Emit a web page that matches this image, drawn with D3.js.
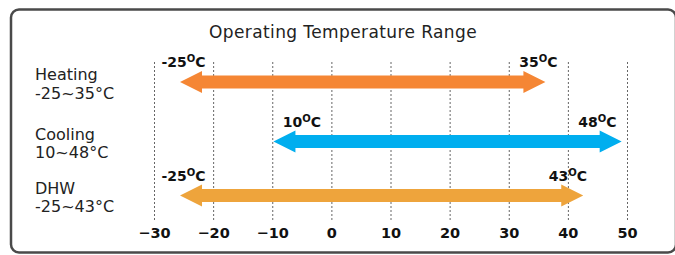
<!DOCTYPE html>
<html>
<head>
<meta charset="utf-8">
<script src="https://cdn.jsdelivr.net/npm/d3@7"></script>
<style>
  body { margin: 0; background: #fff; }
  svg { display: block; font-family: "DejaVu Sans", sans-serif; }
</style>
</head>
<body>
<div id="chart"></div>
<script>
// modes and their operating ranges (°C)
const modes = ["Heating", "Cooling", "DHW"];
const rangeMin = [-25, 10, -25];
const rangeMax = [35, 48, 43];
// where the arrows actually start / end on the axis
const arrowFrom = [-25.6, -9.8, -25.6];
const arrowTo = [36.2, 49.1, 42.6];
// where the end labels sit (axis units, label centre)
const labelMinAt = [-25, -5, -25];
const labelMaxAt = [35, 45, 40];
const modeColors = ["#F58634", "#00AEEF", "#EEA43C"];
const ticks = [-30, -20, -10, 0, 10, 20, 30, 40, 50];

const width = 675, height = 255;

const svg = d3.select("#chart")
    .append("svg")
    .attr("width", width)
    .attr("height", height);

// frame
svg.append("rect")
    .attr("x", 11)
    .attr("y", 9.5)
    .attr("width", 665)
    .attr("height", 243)
    .attr("rx", 8)
    .attr("fill", "none")
    .attr("stroke", "#4a4a4a")
    .attr("stroke-width", 2.5);

const x = d3.scaleLinear()
    .domain([-30, 50])
    .range([154, 627]);

const y = d3.scaleOrdinal()
    .domain(modes)
    .range([82, 141.5, 195.5]);

// title
svg.append("text")
    .attr("x", 343)
    .attr("y", 38)
    .attr("text-anchor", "middle")
    .style("font-size", "17px")
    .style("letter-spacing", "0.4px")
    .style("fill", "#222")
    .text("Operating Temperature Range");

// dashed grid
svg.append("g")
    .selectAll("line")
    .data(ticks)
    .enter().append("line")
    .attr("x1", d => x(d) + 0.5)
    .attr("x2", d => x(d) + 0.5)
    .attr("y1", 62)
    .attr("y2", 222)
    .attr("stroke", "#666")
    .attr("stroke-width", 1)
    .attr("stroke-dasharray", "2,2");

// bottom axis labels only
const axis = svg.append("g")
    .attr("transform", "translate(0,222)")
    .call(d3.axisBottom(x).tickValues(ticks).tickSize(0).tickPadding(6).tickFormat(d3.format("d")));
axis.select(".domain").remove();
axis.selectAll("text")
    .style("font-family", "'DejaVu Sans', sans-serif")
    .style("font-size", "14.5px")
    .style("font-weight", "bold")
    .style("fill", "#111");

const rows = modes.map((m, i) => ({
    mode: m, min: rangeMin[i], max: rangeMax[i],
    from: arrowFrom[i], to: arrowTo[i],
    lMin: labelMinAt[i], lMax: labelMaxAt[i], color: modeColors[i]
}));

// double-headed arrows
const shaft = 6.5, head = 11, headLen = 22;
function arrowPath(d) {
    const x0 = x(d.from), x1 = x(d.to), c = y(d.mode);
    return [
        [x0, c], [x0 + headLen, c - head], [x0 + headLen, c - shaft],
        [x1 - headLen, c - shaft], [x1 - headLen, c - head], [x1, c],
        [x1 - headLen, c + head], [x1 - headLen, c + shaft],
        [x0 + headLen, c + shaft], [x0 + headLen, c + head]
    ].map(p => p.join(",")).join(" ");
}

svg.append("g")
    .selectAll("polygon")
    .data(rows)
    .enter().append("polygon")
    .attr("points", arrowPath)
    .attr("fill", d => d.color);

// end labels like "-25°C" with a raised O
function tempLabel(g, value, at, d) {
    const t = g.append("text")
        .attr("x", x(at))
        .attr("y", y(d.mode) - 15)
        .attr("text-anchor", "middle")
        .style("font-size", "14px")
        .style("font-weight", "bold")
        .style("fill", "#111");
    t.append("tspan").text(value);
    t.append("tspan").attr("dy", -5).style("font-size", "10px").text("O");
    t.append("tspan").attr("dy", 5).text("C");
}

rows.forEach(d => {
    const g = svg.append("g");
    tempLabel(g, d.min, d.lMin, d);
    tempLabel(g, d.max, d.lMax, d);
});

// left-hand mode names
const names = svg.append("g");
rows.forEach(d => {
    const t = names.append("text")
        .attr("x", 35)
        .attr("y", y(d.mode) - 2)
        .style("font-size", "16px")
        .style("fill", "#222");
    t.append("tspan").text(d.mode);
    t.append("tspan").attr("x", 35).attr("dy", 18.5).text(d.min + "~" + d.max + "°C");
});
</script>
</body>
</html>
